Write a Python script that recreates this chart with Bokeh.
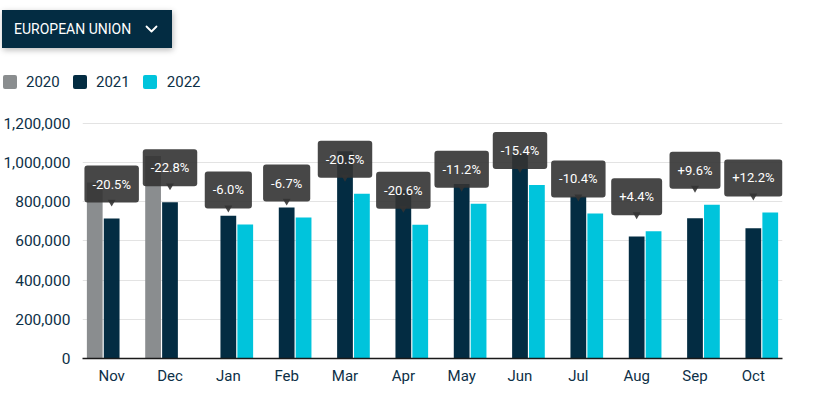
from bokeh.plotting import figure
from bokeh.models import ColumnDataSource, FactorRange, Range1d, FixedTicker, NumeralTickFormatter, Div
from bokeh.transform import dodge
from bokeh.layouts import column
from bokeh.embed import file_html
from bokeh.resources import INLINE
from bokeh.core.properties import value

# ---------------- data ----------------
region = "EUROPEAN UNION"
series_names = ["2020", "2021", "2022"]
months = ["Nov", "Dec", "Jan", "Feb", "Mar", "Apr", "May", "Jun", "Jul", "Aug", "Sep", "Oct"]
months_2020 = ["Nov", "Dec"]
values_2020 = [898000, 1033000]
months_2021 = ["Nov", "Dec", "Jan", "Feb", "Mar", "Apr", "May", "Jun", "Jul", "Aug", "Sep", "Oct"]
values_2021 = [714000, 797000, 728000, 771000, 1058000, 859000, 890000, 1046000, 826000, 622000, 716000, 664000]
months_2022 = ["Jan", "Feb", "Mar", "Apr", "May", "Jun", "Jul", "Aug", "Sep", "Oct"]
values_2022 = [684000, 719000, 841000, 682000, 790000, 885000, 740000, 649500, 785000, 745000]
change_labels = ["-20.5%", "-22.8%", "-6.0%", "-6.7%", "-20.5%", "-20.6%",
                 "-11.2%", "-15.4%", "-10.4%", "+4.4%", "+9.6%", "+12.2%"]
y_ticks = [0, 200000, 400000, 600000, 800000, 1000000, 1200000]

# ---------------- style ----------------
GREY = "#8a8d8f"
NAVY = "#032c42"
CYAN = "#00c4dc"
TEXT = "#0d3047"
TIP = "#333333"
FONT = "Roboto"
series_colors = [GREY, NAVY, CYAN]

FRAME_H = 245
Y_END = 1250000
upp = Y_END / FRAME_H  # data units per pixel

latest = dict(zip(months_2021, values_2021))
latest.update(dict(zip(months_2022, values_2022)))
anchor = [latest[m] for m in months]

src20 = ColumnDataSource(dict(month=months_2020, value=values_2020))
src21 = ColumnDataSource(dict(month=months_2021, value=values_2021))
src22 = ColumnDataSource(dict(month=months_2022, value=values_2022))
tips = ColumnDataSource(dict(month=months, anchor=anchor, label=change_labels,
                             tri=[a + 16.6 * upp for a in anchor]))

# ---------------- main chart ----------------
p = figure(x_range=FactorRange(*months), y_range=Range1d(0, Y_END),
           frame_width=700, frame_height=FRAME_H,
           min_border_left=82, min_border_right=41, min_border_top=5, min_border_bottom=28,
           toolbar_location=None, output_backend="svg", margin=(0, 0, 0, 0))
p.outline_line_color = None
p.background_fill_color = "white"

p.vbar(x=dodge("month", -0.29, range=p.x_range), top="value", width=0.27,
       source=src20, fill_color=GREY, line_color=None)
p.vbar(x=dodge("month", 0.0, range=p.x_range), top="value", width=0.27,
       source=src21, fill_color=NAVY, line_color=None)
p.vbar(x=dodge("month", 0.29, range=p.x_range), top="value", width=0.27,
       source=src22, fill_color=CYAN, line_color=None)

p.scatter(x="month", y="tri", source=tips, marker="inverted_triangle", size=8,
          fill_color=TIP, fill_alpha=0.9, line_color=None)
p.text(x="month", y="anchor", text="label", source=tips,
       text_align="center", text_baseline="middle", y_offset=-34.5,
       text_color="white", text_font=value(FONT), text_font_size="13px",
       background_fill_color=TIP, background_fill_alpha=0.9,
       padding=(8, 11), border_radius=3)

p.xgrid.grid_line_color = None
p.ygrid.grid_line_color = "#e3e3e3"
p.ygrid.grid_line_width = 1

p.yaxis.ticker = FixedTicker(ticks=y_ticks)
p.yaxis.formatter = NumeralTickFormatter(format="0,0")
p.yaxis.axis_line_color = None
p.yaxis.major_tick_line_color = None
p.yaxis.minor_tick_line_color = None
p.yaxis.major_tick_out = 0
p.yaxis.major_tick_in = 0
p.yaxis.minor_tick_out = 0
p.yaxis.major_label_standoff = 12
p.yaxis.major_label_text_font = FONT
p.yaxis.major_label_text_font_size = "15.5px"
p.yaxis.major_label_text_color = TEXT

p.xaxis.axis_line_color = "#1a1a1a"
p.xaxis.axis_line_width = 1.5
p.xaxis.major_tick_line_color = None
p.xaxis.minor_tick_line_color = None
p.xaxis.major_tick_out = 0
p.xaxis.major_tick_in = 0
p.xaxis.minor_tick_out = 0
p.xaxis.major_label_standoff = 8
p.xaxis.major_label_text_font = FONT
p.xaxis.major_label_text_font_size = "15px"
p.xaxis.major_label_text_color = TEXT

# ---------------- header: dropdown + legend (HTML) ----------------
chevron = ('<svg style="position:absolute;left:143px;top:15px" width="14" height="8">'
           '<polyline points="1.5,1.5 6.5,6.5 11.5,1.5" stroke="white" stroke-width="1.8" '
           'fill="none" stroke-linecap="round" stroke-linejoin="round"/></svg>')
dropdown = ('<div style="position:absolute;left:2px;top:10px;width:170px;height:38px;'
            f'background:{NAVY};box-shadow:1px 2px 6px rgba(0,0,0,0.28);color:white;'
            'font-size:14px;line-height:38px;padding-left:12px;box-sizing:border-box;'
            f'font-family:{FONT};white-space:nowrap;">{region}{chevron}</div>')
legend_left = [2.5, 72.5, 143.3]
legend_html = ""
for name, col, lx in zip(series_names, series_colors, legend_left):
    legend_html += (f'<div style="position:absolute;left:{lx}px;top:74.5px;width:14px;height:14px;'
                    f'border-radius:2px;background:{col};"></div>'
                    f'<div style="position:absolute;left:{lx + 23.5}px;top:71.5px;height:20px;'
                    f'line-height:20px;font-size:15px;font-family:{FONT};color:{TEXT};">{name}</div>')
header = Div(text=f'<div style="position:relative;width:823px;height:108px;">{dropdown}{legend_html}</div>',
             width=823, height=108, margin=(0, 0, 0, 0))

layout = column(header, p)
open("out.html", "w").write(file_html(layout, INLINE))
